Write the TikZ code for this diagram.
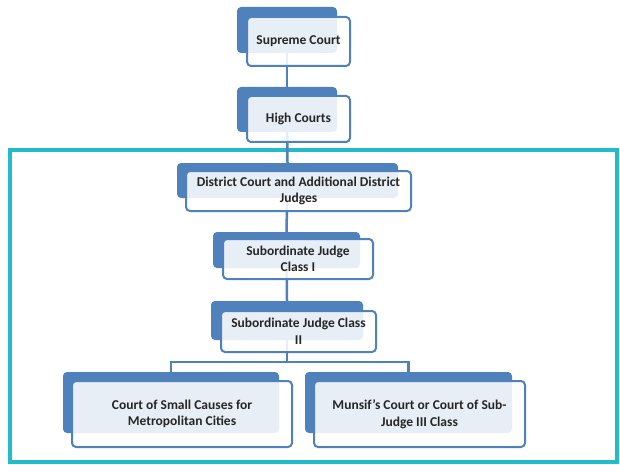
\documentclass[tikz,border=0pt]{standalone}
\usepackage{fontspec}
\setmainfont{Carlito}
\definecolor{boxblue}{HTML}{4F81BD}
\definecolor{framecyan}{HTML}{22BCC9}
\definecolor{txt}{HTML}{262626}
\begin{document}
\begin{tikzpicture}[x=1pt,y=-1pt,
  backbox/.style={draw=none,fill=boxblue,rounded corners=4pt,inner sep=0pt},
  frontbox/.style={draw=boxblue,line width=2pt,fill=white,fill opacity=0.87,text opacity=1,rounded corners=4pt,inner sep=0pt,align=center,text=txt,font=\fontsize{13.5}{16.5}\selectfont\bfseries},
  conn/.style={draw=boxblue,line width=2.5pt}]
\useasboundingbox (0,0) rectangle (620,465);
\fill[white] (0,0) rectangle (620,465);
% frame
\draw[framecyan,line width=4pt] (9.5,150) rectangle (617,462);
% back boxes
\node[backbox,minimum width=100pt,minimum height=46pt] (scb) at (287,30) {};
\node[backbox,minimum width=100pt,minimum height=45pt] (hcb) at (287,109.5) {};
\node[backbox,minimum width=221pt,minimum height=35pt] (dcb) at (287.5,180.5) {};
\node[backbox,minimum width=147pt,minimum height=36pt] (s1b) at (286.5,250) {};
\node[backbox,minimum width=152pt,minimum height=39pt] (s2b) at (287,320.5) {};
\node[backbox,minimum width=216pt,minimum height=61pt] (scc) at (171,402.5) {};
\node[backbox,minimum width=207pt,minimum height=61pt] (mcb) at (408.5,402.5) {};
% connectors
\coordinate (split) at (287,362);
\draw[conn] (scb.center) -- (hcb.north);
\draw[conn] (hcb.center) -- (dcb.north);
\draw[conn] (dcb.center) -- (s1b.north);
\draw[conn] (s1b.center) -- (s2b.north);
\draw[conn] (s2b.center) -- (split);
\draw[conn] (scc.north) -- (scc.north |- split) -- (mcb.north |- split) -- (mcb.north);
% front boxes
\node[frontbox,minimum width=103pt,minimum height=49pt] (sc) at (298.5,41.5) {Supreme Court};
\node[frontbox,minimum width=103pt,minimum height=46pt] (hc) at (298.5,119) {High Courts};
\node[frontbox,minimum width=225pt,minimum height=40pt] (dc) at (298.5,191) {District Court and Additional District\\Judges};
\node[frontbox,minimum width=150pt,minimum height=40pt] (s1) at (298,259) {Subordinate Judge\\Class I};
\node[frontbox,minimum width=155pt,minimum height=41pt] (s2) at (298.5,331.5) {Subordinate Judge Class\\II};
\node[frontbox,minimum width=220pt,minimum height=66pt] (sm) at (182,414) {Court of Small Causes for\\Metropolitan Cities};
\node[frontbox,minimum width=211pt,minimum height=66pt] (mc) at (419.5,414) {Munsif's Court or Court of Sub-\\Judge III Class};
\end{tikzpicture}
\end{document}
